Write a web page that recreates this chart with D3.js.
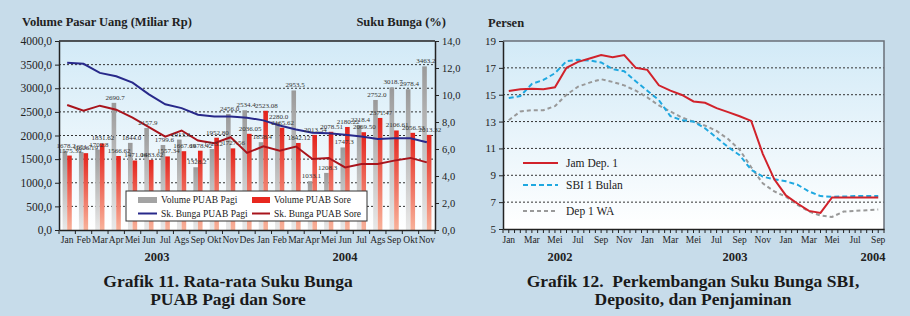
<!DOCTYPE html>
<html>
<head>
<meta charset="utf-8">
<script src="https://cdnjs.cloudflare.com/ajax/libs/d3/7.8.5/d3.min.js"></script>
<style>
	body { margin: 0; background: #c7dcea; }
	svg { display: block; font-family: "Liberation Serif", "DejaVu Serif", serif; }
</style>
</head>
<body>
<svg id="chart" width="910" height="316"></svg>
<script>

// grafik 11 - volume & suku bunga PUAB
var bulanKiri = ['Jan','Feb','Mar','Apr','Mei','Jun','Jul','Ags','Sep','Okt','Nov','Des',
	'Jan','Feb','Mar','Apr','Mei','Jun','Jul','Ags','Sep','Okt','Nov'];
var volPagi = [1678.2,1651.7,1702.8,2690.7,1844.0,2157.9,1799.6,1913.3,1328.2,1713.2,2456.0,2534.4,
	1858.4,2280.0,2953.5,1033.1,1208.3,1747.3,2218.4,2752.0,3018.7,2978.4,3463.2];
var volSore = [1575.39,1626.19,1831.62,1566.62,1471.06,1483.62,1557.34,1667.69,1678.42,1952.80,1727.56,2036.05,
	2523.08,2165.62,1842.12,2013.54,2078.51,2180.22,2069.50,2371.47,2106.61,2056.53,2013.32];
var bungaPagi = [12.38,12.31,11.64,11.39,10.92,10.05,9.31,9.03,8.54,8.41,8.41,8.32,
	8.12,7.74,7.44,7.2,7.17,7.05,6.92,6.75,6.8,6.8,6.5];
var bungaSore = [9.26,8.84,9.21,8.91,8.32,7.62,6.92,7.37,6.63,6.43,6.87,5.71,
	6.2,5.88,6.18,5.26,5.34,4.64,4.89,4.89,5.14,5.34,5.01];
var tickVol = [0,500,1000,1500,2000,2500,3000,3500,4000];
var tickBunga = [0,2,4,6,8,10,12,14];

// grafik 12 - SBI, deposito, penjaminan (Jan 2002 - Sep 2004)
var bulanKanan = ['Jan','Feb','Mar','Apr','Mei','Jun','Jul','Ags','Sep','Okt','Nov','Des',
	'Jan','Feb','Mar','Apr','Mei','Jun','Jul','Ags','Sep','Okt','Nov','Des',
	'Jan','Feb','Mar','Apr','Mei','Jun','Jul','Ags','Sep'];
var jamDep = [15.28,15.4,15.45,15.4,15.55,17.0,17.45,17.7,17.95,17.8,17.95,17.0,
	16.85,15.7,15.3,14.98,14.5,14.4,14.0,13.7,13.4,13.05,10.6,8.7,
	7.5,6.9,6.35,6.2,7.35,7.35,7.35,7.35,7.35];
var sbi = [14.75,14.9,15.8,16.1,16.6,17.5,17.6,17.55,17.4,16.9,16.75,16.0,
	15.3,14.6,13.4,13.1,13.0,12.5,11.8,11.1,10.5,9.4,8.9,8.7,
	8.55,8.3,7.8,7.45,7.4,7.42,7.45,7.45,7.45];
var dep1wa = [13.1,13.75,13.85,13.85,14.15,15.0,15.6,15.9,16.15,15.95,15.7,15.3,
	14.8,14.2,13.75,13.3,13.0,12.7,12.3,11.7,10.9,9.6,8.4,7.8,
	7.4,6.8,6.3,6.0,5.9,6.3,6.35,6.4,6.45];
var tickPersen = [5,7,9,11,13,15,17,19];

var svg = d3.select('#chart');
var defs = svg.append('defs');

function gradien(id, c1, c2) {
	var g = defs.append('linearGradient')
		.attr('id', id)
		.attr('x1', 0).attr('y1', 0)
		.attr('x2', 0).attr('y2', 1);
	g.append('stop').attr('offset', '0%').attr('stop-color', c1);
	g.append('stop').attr('offset', '100%').attr('stop-color', c2);
}
gradien('bgplot', '#d2eaf7', '#ffffff');
gradien('gbar', '#9a9a9a', '#e9e9e9');
gradien('rbar', '#e4231c', '#f8b29a');

function koma(v) { return v.toFixed(1).replace('.', ','); }

function gayaSumbu(g) {
	g.selectAll('path').attr('stroke', '#222').attr('stroke-width', 1.5);
	g.selectAll('line').attr('stroke', '#222');
	g.selectAll('text').attr('fill', '#222').attr('font-family', '"Liberation Serif", serif');
}

// ======== GRAFIK 11 ========
var L = {left: 59, right: 435, top: 41, bottom: 230};

var x1 = d3.scaleBand()
	.domain(d3.range(bulanKiri.length))
	.range([L.left, L.right]);
var yVol = d3.scaleLinear().domain([0, 4000]).range([L.bottom, L.top]);
var yBunga = d3.scaleLinear().domain([0, 14]).range([L.bottom, L.top]);
var bw = x1.bandwidth();

svg.append('rect')
	.attr('x', L.left).attr('y', L.top)
	.attr('width', L.right - L.left).attr('height', L.bottom - L.top)
	.attr('fill', 'url(#bgplot)');

svg.append('g').selectAll('line')
	.data(tickVol.slice(1, -1))
	.enter().append('line')
	.attr('x1', L.left).attr('x2', L.right)
	.attr('y1', function (d) { return yVol(d); })
	.attr('y2', function (d) { return yVol(d); })
	.attr('stroke', '#333')
	.attr('stroke-width', 1)
	.attr('stroke-dasharray', '2,2');

// batang
svg.append('g').selectAll('rect')
	.data(volPagi)
	.enter().append('rect')
	.attr('x', function (d, i) { return x1(i) + bw / 2 - 4.6; })
	.attr('y', function (d) { return yVol(d); })
	.attr('width', 4.6)
	.attr('height', function (d) { return L.bottom - yVol(d); })
	.attr('fill', 'url(#gbar)');

svg.append('g').selectAll('rect')
	.data(volSore)
	.enter().append('rect')
	.attr('x', function (d, i) { return x1(i) + bw / 2; })
	.attr('y', function (d) { return yVol(d); })
	.attr('width', 4.6)
	.attr('height', function (d) { return L.bottom - yVol(d); })
	.attr('fill', 'url(#rbar)');

// garis suku bunga
var garisKiri = d3.line()
	.x(function (d, i) { return x1(i) + bw / 2; })
	.y(function (d) { return yBunga(d); });

svg.append('path')
	.datum(bungaPagi)
	.attr('d', garisKiri)
	.attr('fill', 'none')
	.attr('stroke', '#28298a')
	.attr('stroke-width', 2);

svg.append('path')
	.datum(bungaSore)
	.attr('d', garisKiri)
	.attr('fill', 'none')
	.attr('stroke', '#a8141c')
	.attr('stroke-width', 2);

// label nilai
svg.append('g').selectAll('text')
	.data(volPagi)
	.enter().append('text')
	.attr('x', function (d, i) { return x1(i) + bw / 2 - 1; })
	.attr('y', function (d) { return yVol(d) - 3; })
	.attr('text-anchor', 'middle')
	.attr('font-size', 7)
	.attr('fill', '#333')
	.text(function (d) { return d.toFixed(1); });

svg.append('g').selectAll('text')
	.data(volSore)
	.enter().append('text')
	.attr('x', function (d, i) { return x1(i) + bw / 2 + 3; })
	.attr('y', function (d) { return yVol(d) - 3; })
	.attr('text-anchor', 'middle')
	.attr('font-size', 7)
	.attr('fill', '#333')
	.text(function (d) { return d.toFixed(2); });

// sumbu
svg.append('line')
	.attr('x1', L.left).attr('x2', L.right)
	.attr('y1', L.top).attr('y2', L.top)
	.attr('stroke', '#222').attr('stroke-width', 1.5);

svg.append('g')
	.attr('transform', 'translate(' + L.left + ',0)')
	.call(d3.axisLeft(yVol).tickValues(tickVol).tickFormat(koma).tickSize(4).tickSizeOuter(0))
	.call(gayaSumbu)
	.selectAll('text').attr('font-size', 11.5);

svg.append('g')
	.attr('transform', 'translate(' + L.right + ',0)')
	.call(d3.axisRight(yBunga).tickValues(tickBunga).tickFormat(koma).tickSize(4).tickSizeOuter(0))
	.call(gayaSumbu)
	.selectAll('text').attr('font-size', 10.5);

var sbX1 = svg.append('g')
	.attr('transform', 'translate(0,' + L.bottom + ')')
	.call(d3.axisBottom(x1).tickFormat(function (i) { return bulanKiri[i]; }).tickSize(0).tickPadding(6))
	.call(gayaSumbu);
sbX1.selectAll('text').attr('font-size', 9.5);
sbX1.selectAll('.tickb')
	.data(d3.range(bulanKiri.length + 1))
	.enter().append('line')
	.attr('x1', function (i) { return L.left + i * bw; })
	.attr('x2', function (i) { return L.left + i * bw; })
	.attr('y1', 0).attr('y2', 4)
	.attr('stroke', '#222');

svg.append('text').attr('x', 157).attr('y', 261).attr('text-anchor', 'middle')
	.attr('font-size', 12.5).attr('font-weight', 'bold').attr('fill', '#222').text('2003');
svg.append('text').attr('x', 345).attr('y', 261).attr('text-anchor', 'middle')
	.attr('font-size', 12.5).attr('font-weight', 'bold').attr('fill', '#222').text('2004');

svg.append('text').attr('x', 22).attr('y', 26)
	.attr('font-size', 12.5).attr('font-weight', 'bold').attr('fill', '#222')
	.text('Volume Pasar Uang (Miliar Rp)');
svg.append('text').attr('x', 446).attr('y', 26).attr('text-anchor', 'end')
	.attr('font-size', 12.5).attr('font-weight', 'bold').attr('fill', '#222')
	.text('Suku Bunga (%)');

// legenda
var leg = svg.append('g');
leg.append('rect')
	.attr('x', 126).attr('y', 191)
	.attr('width', 241).attr('height', 30)
	.attr('fill', '#fff')
	.attr('stroke', '#333').attr('stroke-width', 1);
leg.append('rect').attr('x', 138).attr('y', 197).attr('width', 19).attr('height', 6).attr('fill', '#a3a3a3');
leg.append('rect').attr('x', 252).attr('y', 197).attr('width', 18).attr('height', 6).attr('fill', '#e8281f');
leg.append('line').attr('x1', 138).attr('x2', 157).attr('y1', 213.5).attr('y2', 213.5)
	.attr('stroke', '#28298a').attr('stroke-width', 2);
leg.append('line').attr('x1', 252).attr('x2', 270).attr('y1', 213.5).attr('y2', 213.5)
	.attr('stroke', '#a8141c').attr('stroke-width', 2);
[['Volume PUAB Pagi', 161, 203], ['Volume PUAB Sore', 274, 203],
	['Sk. Bunga PUAB Pagi', 161, 217], ['Sk. Bunga PUAB Sore', 274, 217]].forEach(function (t) {
	leg.append('text').attr('x', t[1]).attr('y', t[2])
		.attr('font-size', 9.5).attr('fill', '#222').text(t[0]);
});

svg.append('text').attr('x', 228).attr('y', 287).attr('text-anchor', 'middle')
	.attr('font-size', 17.5).attr('font-weight', 'bold').attr('fill', '#1a1a1a')
	.text('Grafik 11. Rata-rata Suku Bunga');
svg.append('text').attr('x', 228).attr('y', 305).attr('text-anchor', 'middle')
	.attr('font-size', 17.5).attr('font-weight', 'bold').attr('fill', '#1a1a1a')
	.text('PUAB Pagi dan Sore');

// ======== GRAFIK 12 ========
var R = {left: 503, right: 884, top: 41, bottom: 229};

var x2 = d3.scaleBand()
	.domain(d3.range(bulanKanan.length))
	.range([R.left, R.right]);
var yP = d3.scaleLinear().domain([5, 19]).range([R.bottom, R.top]);
var bw2 = x2.bandwidth();

svg.append('rect')
	.attr('x', R.left).attr('y', R.top)
	.attr('width', R.right - R.left).attr('height', R.bottom - R.top)
	.attr('fill', 'url(#bgplot)');

svg.append('g').selectAll('line')
	.data(tickPersen.slice(1, -1))
	.enter().append('line')
	.attr('x1', R.left).attr('x2', R.right)
	.attr('y1', function (d) { return yP(d); })
	.attr('y2', function (d) { return yP(d); })
	.attr('stroke', '#333')
	.attr('stroke-dasharray', '2,2');

svg.append('path')
	.attr('d', 'M' + R.left + ',' + R.top + 'H' + R.right + 'V' + R.bottom)
	.attr('fill', 'none')
	.attr('stroke', '#6a6f78').attr('stroke-width', 1.5);

var garisKanan = d3.line()
	.x(function (d, i) { return x2(i) + bw2 / 2; })
	.y(function (d) { return yP(d); });

svg.append('path').datum(dep1wa).attr('d', garisKanan)
	.attr('fill', 'none').attr('stroke', '#999').attr('stroke-width', 2)
	.attr('stroke-dasharray', '4,3');
svg.append('path').datum(sbi).attr('d', garisKanan)
	.attr('fill', 'none').attr('stroke', '#1fa8e0').attr('stroke-width', 2)
	.attr('stroke-dasharray', '5,3');
svg.append('path').datum(jamDep).attr('d', garisKanan)
	.attr('fill', 'none').attr('stroke', '#d1222b').attr('stroke-width', 2);

svg.append('g')
	.attr('transform', 'translate(' + R.left + ',0)')
	.call(d3.axisLeft(yP).tickValues(tickPersen).tickSize(4).tickSizeOuter(0))
	.call(gayaSumbu)
	.selectAll('text').attr('font-size', 11);

var sbX2 = svg.append('g')
	.attr('transform', 'translate(0,' + R.bottom + ')')
	.call(d3.axisBottom(x2)
		.tickFormat(function (i) { return i % 2 == 0 ? bulanKanan[i] : ''; })
		.tickSize(0).tickPadding(7))
	.call(gayaSumbu);
sbX2.selectAll('text').attr('font-size', 9.5);
sbX2.selectAll('.tickb')
	.data(d3.range(bulanKanan.length * 2 + 1))
	.enter().append('line')
	.attr('x1', function (i) { return R.left + i * bw2 / 2; })
	.attr('x2', function (i) { return R.left + i * bw2 / 2; })
	.attr('y1', 0).attr('y2', 4)
	.attr('stroke', '#222');

[['2002', 560], ['2003', 735], ['2004', 873]].forEach(function (t) {
	svg.append('text').attr('x', t[1]).attr('y', 261).attr('text-anchor', 'middle')
		.attr('font-size', 12.5).attr('font-weight', 'bold').attr('fill', '#222').text(t[0]);
});

svg.append('text').attr('x', 488).attr('y', 27)
	.attr('font-size', 12.5).attr('font-weight', 'bold').attr('fill', '#222')
	.text('Persen');

// legenda kanan
var leg2 = [['Jam Dep. 1', '#d1222b', null, 163],
	['SBI 1 Bulan', '#1fa8e0', '5,3', 185],
	['Dep 1 WA', '#999', '4,3', 211]];
leg2.forEach(function (t) {
	svg.append('line').attr('x1', 523).attr('x2', 558).attr('y1', t[3]).attr('y2', t[3])
		.attr('stroke', t[1]).attr('stroke-width', 2)
		.attr('stroke-dasharray', t[2]);
	svg.append('text').attr('x', 566).attr('y', t[3] + 4)
		.attr('font-size', 11.5).attr('fill', '#222').text(t[0]);
});

svg.append('text').attr('x', 693).attr('y', 287).attr('text-anchor', 'middle')
	.attr('font-size', 17.5).attr('font-weight', 'bold').attr('fill', '#1a1a1a')
	.attr('xml:space', 'preserve')
	.text('Grafik 12.  Perkembangan Suku Bunga SBI,');
svg.append('text').attr('x', 693).attr('y', 305).attr('text-anchor', 'middle')
	.attr('font-size', 17.5).attr('font-weight', 'bold').attr('fill', '#1a1a1a')
	.text('Deposito, dan Penjaminan');

</script>
</body>
</html>
